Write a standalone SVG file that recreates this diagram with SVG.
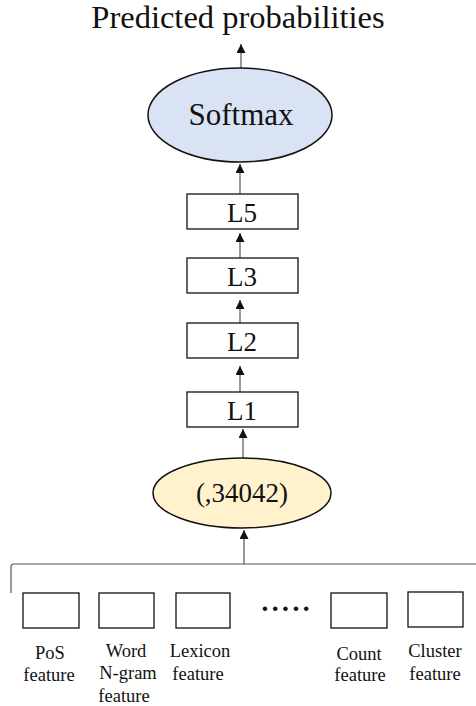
<svg xmlns="http://www.w3.org/2000/svg" width="476" height="706" viewBox="0 0 476 706">
<style>
.t{font-family:'Liberation Serif','DejaVu Serif','Times New Roman',serif;fill:#111;text-anchor:middle}
.box{fill:#fff;stroke:#111;stroke-width:1.3}
.ell{stroke:#111;stroke-width:1.5}
.ln{stroke:#555;stroke-width:1.2;fill:none}
.big{font-size:31px}
.mid{font-size:27px}
.sm{font-size:18.5px}
</style>
<defs>
<marker id="ah" viewBox="0 0 10 10" refX="10" refY="5" markerWidth="9" markerHeight="9" markerUnits="userSpaceOnUse" orient="auto">
<path d="M0,0 L10,5 L0,10 Z" fill="#111"/>
</marker>
</defs>
<g id="title"><text class="t" x="238" y="28" style="font-size:32.5px">Predicted probabilities</text></g>
<g id="connectors">
<line class="ln" x1="241" y1="68" x2="241" y2="44" marker-end="url(#ah)"/>
<line class="ln" x1="240" y1="194" x2="240" y2="164" marker-end="url(#ah)"/>
<line class="ln" x1="240" y1="258" x2="240" y2="233" marker-end="url(#ah)"/>
<line class="ln" x1="240" y1="323" x2="240" y2="300" marker-end="url(#ah)"/>
<line class="ln" x1="240" y1="392" x2="240" y2="366" marker-end="url(#ah)"/>
<line class="ln" x1="243" y1="458" x2="243" y2="429" marker-end="url(#ah)"/>
<line class="ln" x1="244" y1="564" x2="244" y2="530" marker-end="url(#ah)"/>
<path class="ln" d="M476,564 L14,564 Q11,564 11,567 L11,593"/>
</g>
<g id="softmax"><ellipse class="ell" cx="240" cy="115" rx="92" ry="47" fill="#dae3f3"/><text class="t big" x="241" y="125">Softmax</text></g>
<g id="L5"><rect class="box" x="187" y="194" width="111" height="35"/><text class="t mid" x="242" y="222">L5</text></g>
<g id="L3"><rect class="box" x="187" y="258" width="111" height="35"/><text class="t mid" x="242" y="286">L3</text></g>
<g id="L2"><rect class="box" x="187" y="323" width="111" height="35"/><text class="t mid" x="242" y="351">L2</text></g>
<g id="L1"><rect class="box" x="187" y="392" width="111" height="35"/><text class="t mid" x="242" y="420">L1</text></g>
<g id="input"><ellipse class="ell" cx="242" cy="493" rx="89" ry="35" fill="#fff2cc"/><text class="t mid" x="242" y="502">(,34042)</text></g>
<g id="pos"><rect class="box" x="23" y="593" width="56" height="35"/><text class="t sm" x="50" y="659">PoS</text><text class="t sm" x="49" y="681">feature</text></g>
<g id="word"><rect class="box" x="99" y="593" width="55" height="35"/><text class="t sm" x="126" y="657">Word</text><text class="t sm" x="128" y="679">N-gram</text><text class="t sm" x="124" y="702">feature</text></g>
<g id="lexicon"><rect class="box" x="176" y="593" width="54" height="35"/><text class="t sm" x="200" y="657">Lexicon</text><text class="t sm" x="198" y="680">feature</text></g>
<g id="dots"><text class="t" x="286" y="618" style="font-size:28px;font-weight:bold;letter-spacing:1px">·····</text></g>
<g id="count"><rect class="box" x="331" y="593" width="56" height="35"/><text class="t sm" x="359" y="660">Count</text><text class="t sm" x="360" y="681">feature</text></g>
<g id="cluster"><rect class="box" x="408" y="592" width="55" height="35"/><text class="t sm" x="435" y="657">Cluster</text><text class="t sm" x="435" y="680">feature</text></g>
</svg>
